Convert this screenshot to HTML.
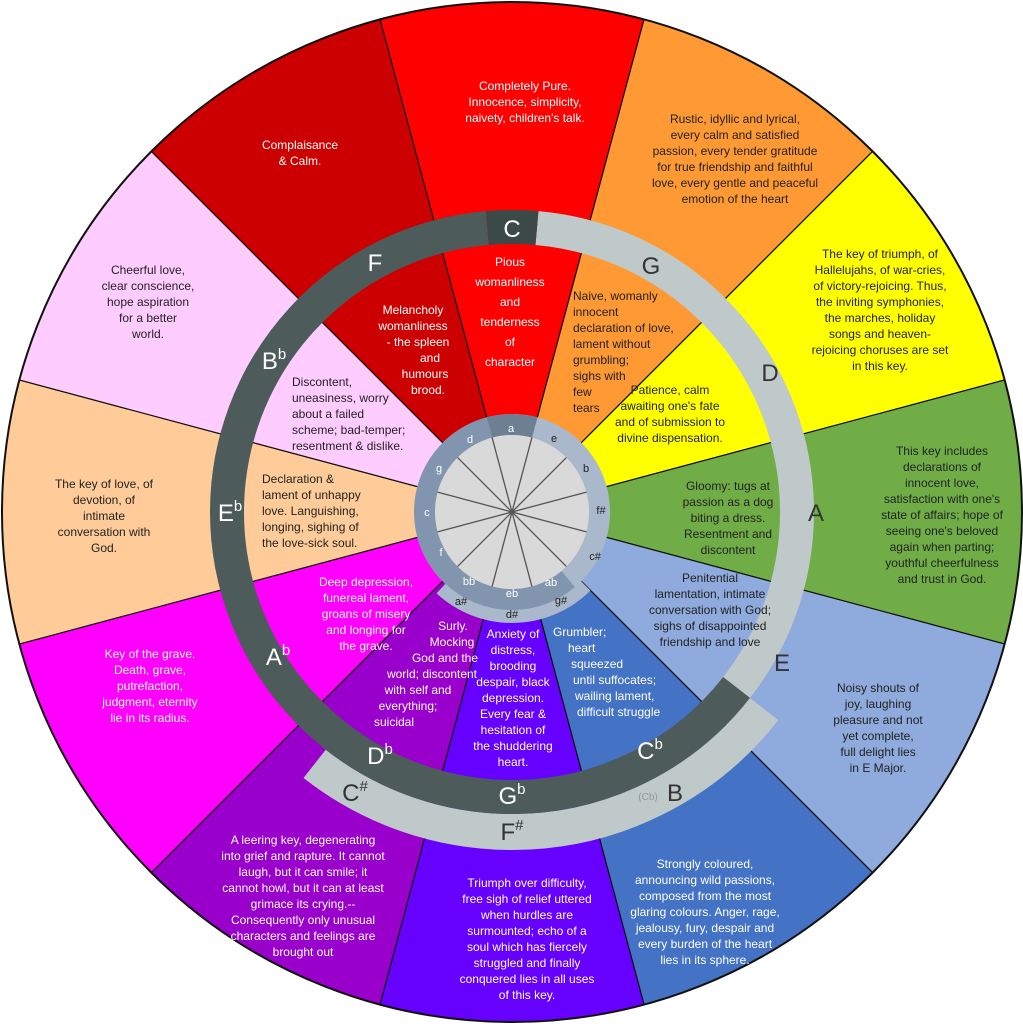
<!DOCTYPE html>
<html><head><meta charset="utf-8"><style>
html,body{margin:0;padding:0;background:#fff;overflow:hidden;width:1023px;height:1024px;}
svg{display:block;}
text{font-family:"Liberation Sans",sans-serif;font-size:12px;}
.w{fill:#fff;} .d{fill:#222;}
.r text{font-size:24px;}
.s text{font-size:11px;}
</style></head><body>
<svg width="1023" height="1024" viewBox="0 0 1023 1024" xmlns="http://www.w3.org/2000/svg">
<defs>
<clipPath id="co"><circle cx="512" cy="512" r="510"/></clipPath>
<clipPath id="ci"><circle cx="512" cy="512" r="268"/></clipPath>
</defs>
<g clip-path="url(#co)" stroke="#111" stroke-width="1.2">
<polygon fill="#ff0000" points="512,512 304.9,-260.7 719.1,-260.7"/>
<polygon fill="#ff9933" points="512,512 719.1,-260.7 1077.7,-53.7"/>
<polygon fill="#ffff00" points="512,512 1077.7,-53.7 1284.7,304.9"/>
<polygon fill="#70ad47" points="512,512 1284.7,304.9 1284.7,719.1"/>
<polygon fill="#8faadc" points="512,512 1284.7,719.1 1077.7,1077.7"/>
<polygon fill="#4472c4" points="512,512 1077.7,1077.7 719.1,1284.7"/>
<polygon fill="#6600ff" points="512,512 719.1,1284.7 304.9,1284.7"/>
<polygon fill="#9900cc" points="512,512 304.9,1284.7 -53.7,1077.7"/>
<polygon fill="#ff00ff" points="512,512 -53.7,1077.7 -260.7,719.1"/>
<polygon fill="#ffcc99" points="512,512 -260.7,719.1 -260.7,304.9"/>
<polygon fill="#ffccff" points="512,512 -260.7,304.9 -53.7,-53.7"/>
<polygon fill="#cc0000" points="512,512 -53.7,-53.7 304.9,-260.7"/>
</g>
<circle cx="512" cy="512" r="510" fill="none" stroke="#111" stroke-width="2"/>
<circle cx="512" cy="512" r="320" fill="none" stroke="#bfc9c9" stroke-width="36" stroke-dasharray="503 1508" stroke-dashoffset="-212.3"/>
<g clip-path="url(#ci)" stroke="#111" stroke-width="1.2">
<polygon fill="#ff0000" points="512,512 304.9,-260.7 719.1,-260.7"/>
<polygon fill="#ff9933" points="512,512 719.1,-260.7 1077.7,-53.7"/>
<polygon fill="#ffff00" points="512,512 1077.7,-53.7 1284.7,304.9"/>
<polygon fill="#70ad47" points="512,512 1284.7,304.9 1284.7,719.1"/>
<polygon fill="#8faadc" points="512,512 1284.7,719.1 1077.7,1077.7"/>
<polygon fill="#4472c4" points="512,512 1077.7,1077.7 719.1,1284.7"/>
<polygon fill="#6600ff" points="512,512 719.1,1284.7 304.9,1284.7"/>
<polygon fill="#9900cc" points="512,512 304.9,1284.7 -53.7,1077.7"/>
<polygon fill="#ff00ff" points="512,512 -53.7,1077.7 -260.7,719.1"/>
<polygon fill="#ffcc99" points="512,512 -260.7,719.1 -260.7,304.9"/>
<polygon fill="#ffccff" points="512,512 -260.7,304.9 -53.7,-53.7"/>
<polygon fill="#cc0000" points="512,512 -53.7,-53.7 304.9,-260.7"/>
</g>
<circle cx="512" cy="512" r="285" fill="none" stroke="#bfc9c9" stroke-width="34" stroke-dasharray="621.8 1168.9" stroke-dashoffset="422.8"/>
<circle cx="512" cy="512" r="285" fill="none" stroke="#4d5b5b" stroke-width="34" stroke-dasharray="1129.1 661.6" stroke-dashoffset="-189"/>
<circle cx="512" cy="512" r="285" fill="none" stroke="#3c4949" stroke-width="34" stroke-dasharray="49.7 1741" stroke-dashoffset="-1318.2"/>
<circle cx="512" cy="512" r="104" fill="none" stroke="#aab8cc" stroke-width="14" stroke-dasharray="159.3 494.2" stroke-dashoffset="-81.7"/>
<circle cx="512" cy="512" r="98" fill="#aab8cc"/>
<circle cx="512" cy="512" r="87.5" fill="none" stroke="#8196ae" stroke-width="21" stroke-dasharray="313 236.8" stroke-dashoffset="-76.4"/>
<circle cx="512" cy="512" r="87.5" fill="none" stroke="#6f7f93" stroke-width="21" stroke-dasharray="45.8 504" stroke-dashoffset="-389.4"/>
<circle cx="512" cy="512" r="77" fill="#d9d9d9"/>
<g stroke="#555" stroke-width="1.3">
<line x1="531.9" y1="437.6" x2="492.1" y2="586.4"/>
<line x1="566.4" y1="457.6" x2="457.6" y2="566.4"/>
<line x1="586.4" y1="492.1" x2="437.6" y2="531.9"/>
<line x1="586.4" y1="531.9" x2="437.6" y2="492.1"/>
<line x1="566.4" y1="566.4" x2="457.6" y2="457.6"/>
<line x1="531.9" y1="586.4" x2="492.1" y2="437.6"/>
</g>
<g class="s" text-anchor="middle">
<text x="511" y="432" class="w">a</text>
<text x="554" y="442" class="d">e</text>
<text x="586" y="472" class="d">b</text>
<text x="601" y="514" class="d">f#</text>
<text x="595" y="560" class="d">c#</text>
<text x="561" y="604" class="d">g#</text>
<text x="512" y="618" class="d">d#</text>
<text x="461" y="605" class="d">a#</text>
<text x="551" y="586" class="w">ab</text>
<text x="512" y="597" class="w">eb</text>
<text x="469" y="585" class="w">bb</text>
<text x="441" y="556" class="w">f</text>
<text x="427" y="516" class="w">c</text>
<text x="439" y="472" class="w">g</text>
<text x="470" y="443" class="w">d</text>
</g>
<g class="r" text-anchor="middle">
<text x="512" y="237" class="w">C</text>
<text x="651" y="274" fill="#333">G</text>
<text x="770" y="381" fill="#333">D</text>
<text x="816" y="521" fill="#333">A</text>
<text x="782" y="671" fill="#333">E</text>
<text x="675" y="801" fill="#333">B</text>
<text x="650" y="759" class="w">C<tspan style="font-size:15px" dy="-10">b</tspan></text>
<text x="512" y="840" fill="#333">F<tspan style="font-size:15px" dy="-10">#</tspan></text>
<text x="512" y="804" class="w">G<tspan style="font-size:15px" dy="-10">b</tspan></text>
<text x="355" y="801" fill="#333">C<tspan style="font-size:15px" dy="-10">#</tspan></text>
<text x="380" y="764" class="w">D<tspan style="font-size:15px" dy="-10">b</tspan></text>
<text x="278" y="665" class="w">A<tspan style="font-size:15px" dy="-10">b</tspan></text>
<text x="230" y="521" class="w">E<tspan style="font-size:15px" dy="-10">b</tspan></text>
<text x="274" y="369" class="w">B<tspan style="font-size:15px" dy="-10">b</tspan></text>
<text x="375" y="271" class="w">F</text>
</g>
<text x="648" y="800" style="font-size:10px" fill="#8f9a9a" text-anchor="middle">(Cb)</text>
<g text-anchor="middle">
<text class="w" x="525" y="90">Completely Pure.<tspan x="525" dy="16">Innocence, simplicity,</tspan><tspan x="525" dy="16">naivety, children's talk.</tspan></text>
<text class="d" x="735" y="123">Rustic, idyllic and lyrical,<tspan x="735" dy="16">every calm and satisfied</tspan><tspan x="735" dy="16">passion, every tender gratitude</tspan><tspan x="735" dy="16">for true friendship and faithful</tspan><tspan x="735" dy="16">love, every gentle and peaceful</tspan><tspan x="735" dy="16">emotion of the heart</tspan></text>
<text class="d" x="880" y="258">The key of triumph, of<tspan x="880" dy="16">Hallelujahs, of war-cries,</tspan><tspan x="880" dy="16">of victory-rejoicing. Thus,</tspan><tspan x="880" dy="16">the inviting symphonies,</tspan><tspan x="880" dy="16">the marches, holiday</tspan><tspan x="880" dy="16">songs and heaven-</tspan><tspan x="880" dy="16">rejoicing choruses are set</tspan><tspan x="880" dy="16">in this key.</tspan></text>
<text class="d" x="942" y="455">This key includes<tspan x="942" dy="16">declarations of</tspan><tspan x="942" dy="16">innocent love,</tspan><tspan x="942" dy="16">satisfaction with one's</tspan><tspan x="942" dy="16">state of affairs; hope of</tspan><tspan x="942" dy="16">seeing one's beloved</tspan><tspan x="942" dy="16">again when parting;</tspan><tspan x="942" dy="16">youthful cheerfulness</tspan><tspan x="942" dy="16">and trust in God.</tspan></text>
<text class="d" x="878" y="692">Noisy shouts of<tspan x="878" dy="16">joy, laughing</tspan><tspan x="878" dy="16">pleasure and not</tspan><tspan x="878" dy="16">yet complete,</tspan><tspan x="878" dy="16">full delight lies</tspan><tspan x="878" dy="16">in E Major.</tspan></text>
<text class="w" x="705" y="868">Strongly coloured,<tspan x="705" dy="16">announcing wild passions,</tspan><tspan x="705" dy="16">composed from the most</tspan><tspan x="705" dy="16">glaring colours. Anger, rage,</tspan><tspan x="705" dy="16">jealousy, fury, despair and</tspan><tspan x="705" dy="16">every burden of the heart</tspan><tspan x="705" dy="16">lies in its sphere.</tspan></text>
<text class="w" x="527" y="887">Triumph over difficulty,<tspan x="527" dy="16">free sigh of relief uttered</tspan><tspan x="527" dy="16">when hurdles are</tspan><tspan x="527" dy="16">surmounted; echo of a</tspan><tspan x="527" dy="16">soul which has fiercely</tspan><tspan x="527" dy="16">struggled and finally</tspan><tspan x="527" dy="16">conquered lies in all uses</tspan><tspan x="527" dy="16">of this key.</tspan></text>
<text class="w" x="303" y="844">A leering key, degenerating<tspan x="303" dy="16">into grief and rapture. It cannot</tspan><tspan x="303" dy="16">laugh, but it can smile; it</tspan><tspan x="303" dy="16">cannot howl, but it can at least</tspan><tspan x="303" dy="16">grimace its crying.--</tspan><tspan x="303" dy="16">Consequently only unusual</tspan><tspan x="303" dy="16">characters and feelings are</tspan><tspan x="303" dy="16">brought out</tspan></text>
<text class="w" x="150" y="658">Key of the grave.<tspan x="150" dy="16">Death, grave,</tspan><tspan x="150" dy="16">putrefaction,</tspan><tspan x="150" dy="16">judgment, eternity</tspan><tspan x="150" dy="16">lie in its radius.</tspan></text>
<text class="d" x="104" y="488">The key of love, of<tspan x="104" dy="16">devotion, of</tspan><tspan x="104" dy="16">intimate</tspan><tspan x="104" dy="16">conversation with</tspan><tspan x="104" dy="16">God.</tspan></text>
<text class="d" x="148" y="274">Cheerful love,<tspan x="148" dy="16">clear conscience,</tspan><tspan x="148" dy="16">hope aspiration</tspan><tspan x="148" dy="16">for a better</tspan><tspan x="148" dy="16">world.</tspan></text>
<text class="w" x="300" y="149">Complaisance<tspan x="300" dy="16">&amp; Calm.</tspan></text>
<text class="w" x="510" y="266">Pious<tspan x="510" dy="20">womanliness</tspan><tspan x="510" dy="20">and</tspan><tspan x="510" dy="20">tenderness</tspan><tspan x="510" dy="20">of</tspan><tspan x="510" dy="20">character</tspan></text>
<text class="d" x="670" y="394">Patience, calm<tspan x="670" dy="16">awaiting one's fate</tspan><tspan x="670" dy="16">and of submission to</tspan><tspan x="670" dy="16">divine dispensation.</tspan></text>
<text class="d" x="728" y="490">Gloomy: tugs at<tspan x="728" dy="16">passion as a dog</tspan><tspan x="728" dy="16">biting a dress.</tspan><tspan x="728" dy="16">Resentment and</tspan><tspan x="728" dy="16">discontent</tspan></text>
<text class="d" x="710" y="582">Penitential<tspan x="710" dy="16">lamentation, intimate</tspan><tspan x="710" dy="16">conversation with God;</tspan><tspan x="710" dy="16">sighs of disappointed</tspan><tspan x="710" dy="16">friendship and love</tspan></text>
<text class="w" x="513" y="638">Anxiety of<tspan x="513" dy="16">distress,</tspan><tspan x="513" dy="16">brooding</tspan><tspan x="513" dy="16">despair, black</tspan><tspan x="513" dy="16">depression.</tspan><tspan x="513" dy="16">Every fear &amp;</tspan><tspan x="513" dy="16">hesitation of</tspan><tspan x="513" dy="16">the shuddering</tspan><tspan x="513" dy="16">heart.</tspan></text>
<text class="w" x="366" y="586">Deep depression,<tspan x="366" dy="16">funereal lament,</tspan><tspan x="366" dy="16">groans of misery</tspan><tspan x="366" dy="16">and longing for</tspan><tspan x="366" dy="16">the grave.</tspan></text>
<text class="w" x="413" y="314">Melancholy<tspan x="413" dy="16">womanliness</tspan><tspan x="418" dy="16">- the spleen</tspan><tspan x="430" dy="16">and</tspan><tspan x="425" dy="16">humours</tspan><tspan x="428" dy="16">brood.</tspan></text>
<text class="w" x="453" y="630">Surly.<tspan x="452" dy="16">Mocking</tspan><tspan x="445" dy="16">God and the</tspan><tspan x="432" dy="16">world; discontent</tspan><tspan x="418" dy="16">with self and</tspan><tspan x="408" dy="16">everything;</tspan><tspan x="394" dy="16">suicidal</tspan></text>
</g>
<g text-anchor="start">
<text class="d" x="573" y="300">Naive, womanly<tspan x="573" dy="16">innocent</tspan><tspan x="573" dy="16">declaration of love,</tspan><tspan x="573" dy="16">lament without</tspan><tspan x="573" dy="16">grumbling;</tspan><tspan x="573" dy="16">sighs with</tspan><tspan x="573" dy="16">few</tspan><tspan x="573" dy="16">tears</tspan></text>
<text class="w" x="553" y="636">Grumbler;<tspan x="568" dy="16">heart</tspan><tspan x="571" dy="16">squeezed</tspan><tspan x="573" dy="16">until suffocates;</tspan><tspan x="575" dy="16">wailing lament,</tspan><tspan x="577" dy="16">difficult struggle</tspan></text>
<text class="d" x="262" y="483">Declaration &amp;<tspan x="262" dy="16">lament of unhappy</tspan><tspan x="262" dy="16">love. Languishing,</tspan><tspan x="262" dy="16">longing, sighing of</tspan><tspan x="262" dy="16">the love-sick soul.</tspan></text>
<text class="d" x="292" y="386">Discontent,<tspan x="292" dy="16">uneasiness, worry</tspan><tspan x="292" dy="16">about a failed</tspan><tspan x="292" dy="16">scheme; bad-temper;</tspan><tspan x="292" dy="16">resentment &amp; dislike.</tspan></text>
</g>
</svg>
</body></html>
